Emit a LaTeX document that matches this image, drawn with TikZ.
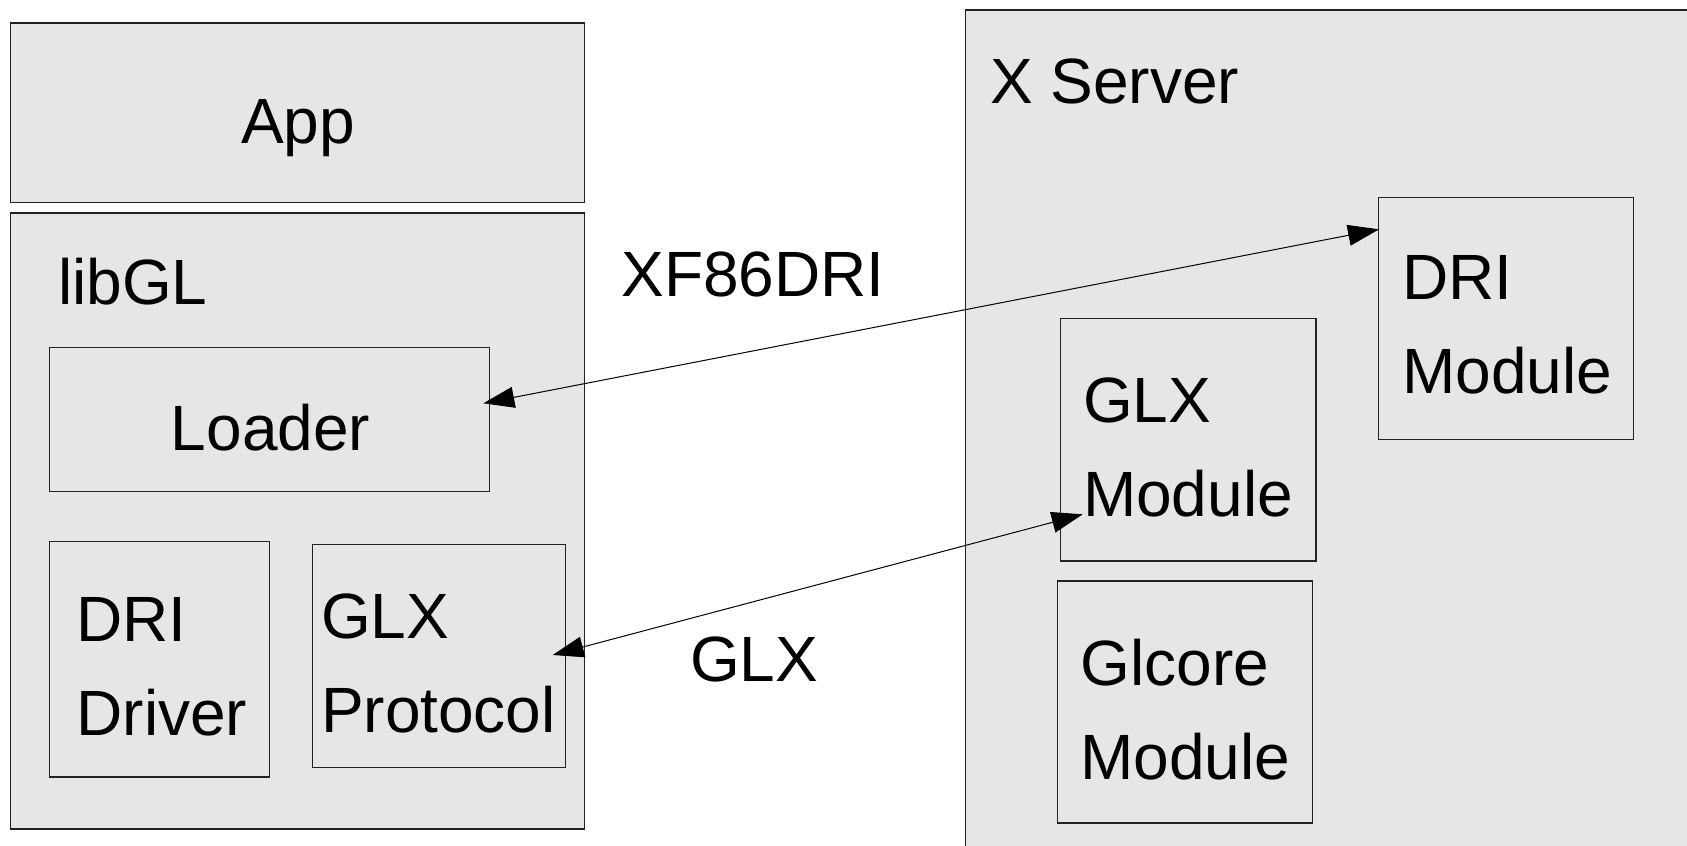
\documentclass[tikz,border=0pt]{standalone}
\usepackage{fontspec}
\setmainfont{Liberation Sans}
\usetikzlibrary{arrows.meta}
\definecolor{boxfill}{HTML}{E6E6E6}
\definecolor{boxline}{HTML}{222222}
\begin{document}
\begin{tikzpicture}[x=1pt,y=1pt,
  box/.style={draw=boxline, fill=boxfill, line width=1.1pt, inner sep=0pt, outer sep=0pt},
  lbl/.style={inner sep=0pt, outer sep=0pt, anchor=base west, font=\fontsize{64}{94}\selectfont},
  clbl/.style={lbl, anchor=base},
  conn/.style={line width=1pt, {Triangle[length=31pt,width=21pt]}-{Triangle[length=31pt,width=21pt]}}]
\clip (0,0) rectangle (1687,-846);
\fill[white] (0,0) rectangle (1687,-846);
% left stack
\node[box, minimum width=574, minimum height=179.5] (app) at (297.5,-112.75) {};
\node[box, minimum width=574, minimum height=616] (libgl) at (297.5,-521) {};
\node[box, minimum width=440, minimum height=144.2] (loader) at (269.5,-419.6) {};
\node[box, minimum width=220.1, minimum height=235.7] (dridrv) at (159.75,-659.15) {};
\node[box, minimum width=253, minimum height=223] (glxproto) at (438.8,-655.8) {};
% right stack
\node[box, minimum width=734.5, minimum height=850] (xserver) at (1332.75,-435) {};
\node[box, minimum width=255.1, minimum height=242.3] (drimod) at (1506.15,-318.65) {};
\node[box, minimum width=255.6, minimum height=242.6] (glxmod) at (1188.2,-439.7) {};
\node[box, minimum width=255.2, minimum height=242] (glcore) at (1185.2,-702) {};
% labels
\node[clbl] (tapp) at (298,-143) {App};
\node[lbl] (tlibgl) at (58,-304) {libGL};
\node[clbl] (tloader) at (270.5,-450) {Loader};
\node[lbl] (tdridrv) at (76.5,-641.7) {\begin{tabular}[t]{@{}l@{}}DRI\\Driver\end{tabular}};
\node[lbl] (tglxproto) at (321,-638.3) {\begin{tabular}[t]{@{}l@{}}GLX\\Protocol\end{tabular}};
\node[lbl] (txserver) at (990,-103.6) {X Server};
\node[lbl] (tdrimod) at (1402.5,-299.5) {\begin{tabular}[t]{@{}l@{}}DRI\\Module\end{tabular}};
\node[lbl] (tglxmod) at (1083,-422) {\begin{tabular}[t]{@{}l@{}}GLX\\Module\end{tabular}};
\node[lbl] (tglcore) at (1080.5,-685.4) {\begin{tabular}[t]{@{}l@{}}Glcore\\Module\end{tabular}};
\node[lbl] (txf) at (621.5,-296.7) {XF86DRI};
\node[lbl] (tglx) at (690,-681) {GLX};
% connectors
\draw[conn] ([shift={(-6.2,16.3)}]loader.east) -- ([shift={(0.4,89.3)}]drimod.west);
\draw[conn] ([shift={(-12.6,0.8)}]glxproto.east) -- ([shift={(22.3,-74.6)}]glxmod.west);
\end{tikzpicture}
\end{document}
